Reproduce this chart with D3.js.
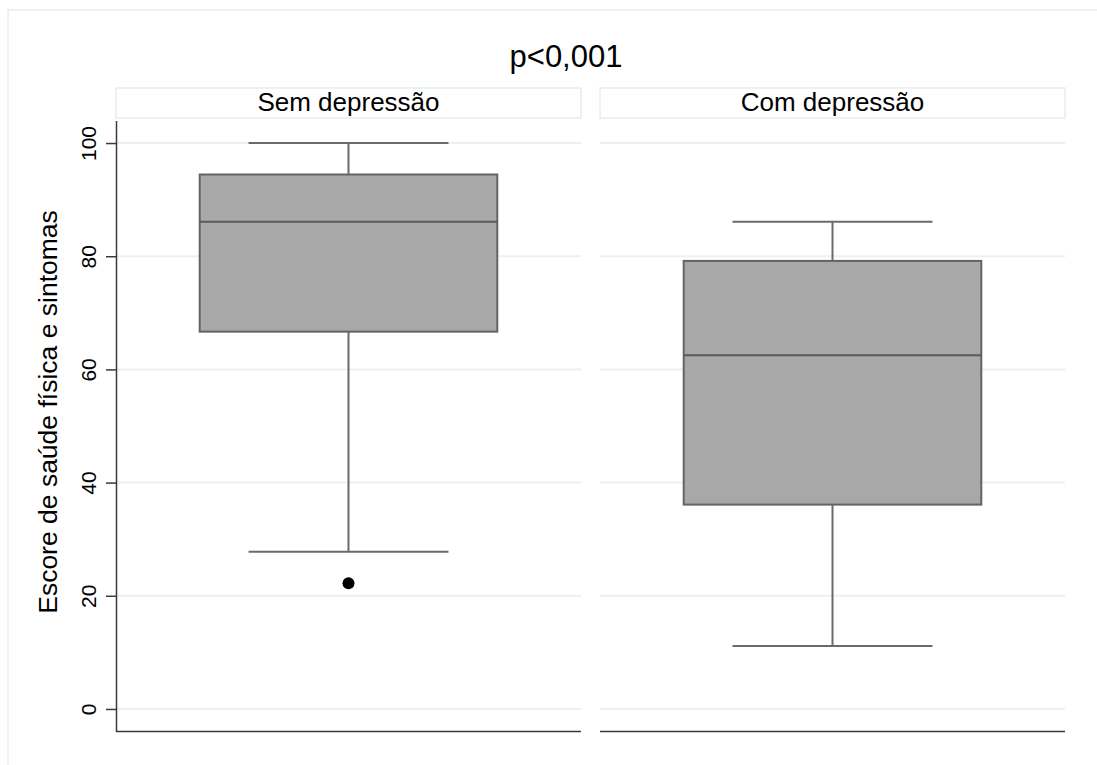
<!DOCTYPE html>
<html>
<head>
<meta charset="utf-8">
<script src="https://cdn.jsdelivr.net/npm/d3@7"></script>
<style>
  body { margin: 0; background: #fff; }
  text { font-family: "Liberation Sans", Arial, Helvetica, sans-serif; fill: #000; }
</style>
</head>
<body>
<div id="chart"></div>
<script>
'use strict';

// data (SF-36 style scores)
var groups = ["Sem depressão", "Com depressão"];
var lowerWhisker = [27.78, 11.11];
var q1 = [66.67, 36.11];
var median = [86.11, 62.5];
var q3 = [94.44, 79.17];
var upperWhisker = [100, 86.11];
var outliers = [[22.22], []];
var yTicks = [0, 20, 40, 60, 80, 100];

var width = 1097, height = 765;

var svg = d3.select("#chart").append("svg")
  .attr("width", width)
  .attr("height", height);

// outer frame
svg.append("rect")
  .attr("x", 8).attr("y", 10)
  .attr("width", width + 20).attr("height", height + 20)
  .attr("fill", "none")
  .attr("stroke", "#e6eeee")
  .attr("stroke-width", 1.5);

var x = d3.scaleBand()
  .domain(groups)
  .range([116, 1065])
  .paddingInner(0.0393);

var y = d3.scaleLinear()
  .domain([-4, 104])
  .range([731.6, 120.4]);

// title
svg.append("text")
  .attr("x", 566)
  .attr("y", 67)
  .attr("text-anchor", "middle")
  .style("font-size", "31px")
  .text("p<0,001");

var panel = svg.selectAll("g.panel")
  .data(groups)
  .enter().append("g")
  .attr("class", "panel")
  .attr("transform", function(d) { return "translate(" + x(d) + ",0)"; });

// strip labels
panel.append("rect")
  .attr("x", 0).attr("y", 88)
  .attr("width", x.bandwidth()).attr("height", 30)
  .attr("fill", "#fff")
  .attr("stroke", "#e6eeee")
  .attr("stroke-width", 1.5);

panel.append("text")
  .attr("x", x.bandwidth() / 2)
  .attr("y", 111)
  .attr("text-anchor", "middle")
  .style("font-size", "26px")
  .text(function(d) { return d; });

// gridlines
panel.selectAll("line.grid")
  .data(yTicks)
  .enter().append("line")
  .attr("class", "grid")
  .attr("x1", 0).attr("x2", x.bandwidth())
  .attr("y1", function(d) { return y(d); })
  .attr("y2", function(d) { return y(d); })
  .attr("stroke", "#eaf1f2")
  .attr("stroke-width", 2);

// x axis baseline per panel
panel.append("line")
  .attr("x1", 0).attr("x2", x.bandwidth())
  .attr("y1", y(-4)).attr("y2", y(-4))
  .attr("stroke", "#3a3a3a")
  .attr("stroke-width", 1.5);

var boxW = x.bandwidth() * 0.64;
var capW = x.bandwidth() * 0.43;
var cx = x.bandwidth() / 2;

panel.each(function(d, i) {
  var g = d3.select(this);
  var wc = "#6a6a6a";

  // whiskers
  g.append("line")
    .attr("x1", cx).attr("x2", cx)
    .attr("y1", y(q3[i])).attr("y2", y(upperWhisker[i]))
    .attr("stroke", wc).attr("stroke-width", 2);
  g.append("line")
    .attr("x1", cx).attr("x2", cx)
    .attr("y1", y(q1[i])).attr("y2", y(lowerWhisker[i]))
    .attr("stroke", wc).attr("stroke-width", 2);
  g.append("line")
    .attr("x1", cx - capW / 2).attr("x2", cx + capW / 2)
    .attr("y1", y(upperWhisker[i])).attr("y2", y(upperWhisker[i]))
    .attr("stroke", wc).attr("stroke-width", 2);
  g.append("line")
    .attr("x1", cx - capW / 2).attr("x2", cx + capW / 2)
    .attr("y1", y(lowerWhisker[i])).attr("y2", y(lowerWhisker[i]))
    .attr("stroke", wc).attr("stroke-width", 2);

  // box
  g.append("rect")
    .attr("x", cx - boxW / 2)
    .attr("y", y(q3[i]))
    .attr("width", boxW)
    .attr("height", y(q1[i]) - y(q3[i]))
    .attr("fill", "#a8a8a8")
    .attr("stroke", "#646464")
    .attr("stroke-width", 2);

  g.append("line")
    .attr("x1", cx - boxW / 2).attr("x2", cx + boxW / 2)
    .attr("y1", y(median[i])).attr("y2", y(median[i]))
    .attr("stroke", "#5a5a5a").attr("stroke-width", 2);

  g.selectAll("circle")
    .data(outliers[i])
    .enter().append("circle")
    .attr("cx", cx)
    .attr("cy", function(v) { return y(v); })
    .attr("r", 6)
    .attr("fill", "#000");
});

// y axis
var yAxis = svg.append("g")
  .attr("transform", "translate(116,0)")
  .call(d3.axisLeft(y).tickValues(yTicks).tickSize(10).tickSizeOuter(0).tickPadding(0));

yAxis.select(".domain").attr("stroke", "#3a3a3a").attr("stroke-width", 1.5);
yAxis.selectAll(".tick line").attr("stroke", "#3a3a3a").attr("stroke-width", 1.5);
yAxis.selectAll(".tick text")
  .attr("x", 0).attr("dy", null)
  .attr("text-anchor", "middle")
  .attr("transform", "translate(-20,0) rotate(-90)")
  .style("font-family", "'Liberation Sans', Arial, sans-serif")
  .style("font-size", "21px")
  .attr("fill", "#000");

// y axis title
svg.append("text")
  .attr("transform", "translate(57,412) rotate(-90)")
  .attr("text-anchor", "middle")
  .style("font-size", "26.5px")
  .text("Escore de saúde física e sintomas");
</script>
</body>
</html>
